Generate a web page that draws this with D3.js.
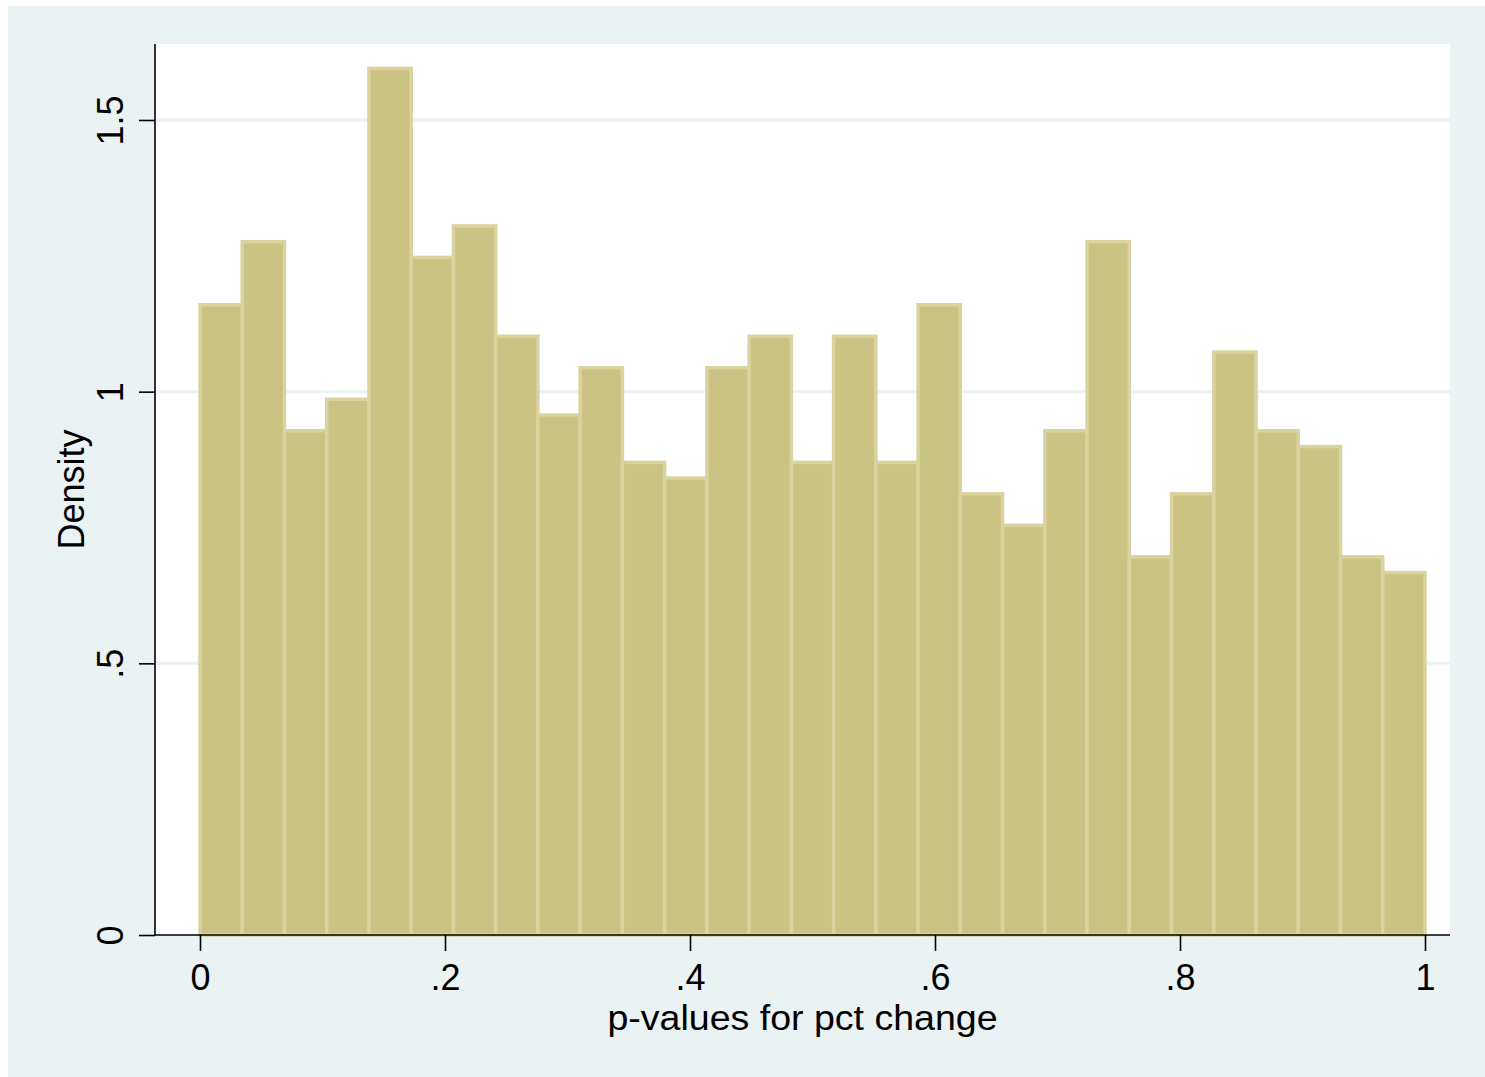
<!DOCTYPE html>
<html>
<head>
<meta charset="utf-8">
<script src="https://cdn.jsdelivr.net/npm/d3@7"></script>
<style>
  html, body { margin: 0; padding: 0; background: #ffffff; }
  svg { display: block; }
  text { font-family: Arial, "Liberation Sans", sans-serif; fill: #000; }
</style>
</head>
<body>
<svg id="chart" width="1485" height="1077"></svg>
<script>
// Histogram of p-values: 29 equal-width bins on [0, 1], heights in density units
const binStart = 0;
const binEnd = 1;
const densities = [
  1.160, 1.276, 0.928, 0.986, 1.595, 1.247, 1.305, 1.102, 0.957, 1.044,
  0.870, 0.841, 1.044, 1.102, 0.870, 1.102, 0.870, 1.160, 0.812, 0.754,
  0.928, 1.276, 0.696, 0.812, 1.073, 0.928, 0.899, 0.696, 0.667
];
const xTicks = [0, 0.2, 0.4, 0.6, 0.8, 1];
const xTickLabels = ["0", ".2", ".4", ".6", ".8", "1"];
const yTicks = [0, 0.5, 1, 1.5];
const yTickLabels = ["0", ".5", "1", "1.5"];
const xTitle = "p-values for pct change";
const yTitle = "Density";

const svg = d3.select("#chart");
const W = 1485, H = 1077;

// Outer graph region
svg.append("rect")
  .attr("x", 8).attr("y", 6)
  .attr("width", W - 8).attr("height", H - 6)
  .attr("fill", "#eaf2f3");

// Plot region
const plot = { left: 155, right: 1450, top: 44, bottom: 935 };
svg.append("rect")
  .attr("x", plot.left).attr("y", plot.top)
  .attr("width", plot.right - plot.left).attr("height", plot.bottom - plot.top)
  .attr("fill", "#ffffff");

const x = d3.scaleLinear().domain([binStart, binEnd]).range([200, 1425]);
const y = d3.scaleLinear().domain([0, 1.5]).range([plot.bottom, 120]);

// Horizontal grid lines
svg.append("g")
  .selectAll("line")
  .data(yTicks.filter(v => v > 0))
  .join("line")
  .attr("x1", plot.left).attr("x2", plot.right)
  .attr("y1", d => y(d)).attr("y2", d => y(d))
  .attr("stroke", "#eaf2f3")
  .attr("stroke-width", 3);

// Bars
const nBins = densities.length;
const binW = (binEnd - binStart) / nBins;
svg.append("g")
  .selectAll("rect")
  .data(densities)
  .join("rect")
  .attr("x", (d, i) => x(binStart + i * binW))
  .attr("width", (d, i) => x(binStart + (i + 1) * binW) - x(binStart + i * binW))
  .attr("y", d => y(d))
  .attr("height", d => y(0) - y(d))
  .attr("fill", "#cbc383")
  .attr("stroke", "#d9d39f")
  .attr("stroke-width", 3.5);

// Y axis
const yAxis = d3.axisLeft(y)
  .tickValues(yTicks)
  .tickFormat((d, i) => yTickLabels[i])
  .tickSize(16)
  .tickSizeOuter(0)
  .tickPadding(0);
const gy = svg.append("g")
  .attr("transform", `translate(${plot.left},0)`)
  .call(yAxis);
gy.select(".domain").remove();
gy.selectAll(".tick line").attr("stroke", "#000").attr("stroke-width", 1.6);
gy.selectAll(".tick text")
  .attr("x", null).attr("dy", null)
  .attr("text-anchor", "middle")
  .attr("transform", "translate(-32,0) rotate(-90)")
  .style("font-size", "36px")
  .style("font-family", "Arial, 'Liberation Sans', sans-serif");
svg.append("line")
  .attr("x1", plot.left).attr("x2", plot.left)
  .attr("y1", plot.top).attr("y2", plot.bottom)
  .attr("stroke", "#000").attr("stroke-width", 1.6);

// X axis
const xAxis = d3.axisBottom(x)
  .tickValues(xTicks)
  .tickFormat((d, i) => xTickLabels[i])
  .tickSize(16)
  .tickSizeOuter(0)
  .tickPadding(0);
const gx = svg.append("g")
  .attr("transform", `translate(0,${plot.bottom})`)
  .call(xAxis);
gx.select(".domain").remove();
gx.selectAll(".tick line").attr("stroke", "#000").attr("stroke-width", 1.6);
gx.selectAll(".tick text")
  .attr("y", 55).attr("dy", null)
  .style("font-size", "36px")
  .style("font-family", "Arial, 'Liberation Sans', sans-serif");
svg.append("line")
  .attr("x1", plot.left).attr("x2", plot.right)
  .attr("y1", plot.bottom).attr("y2", plot.bottom)
  .attr("stroke", "#000").attr("stroke-width", 1.6);

// Axis titles
svg.append("text")
  .attr("x", (plot.left + plot.right) / 2)
  .attr("y", 1030)
  .attr("text-anchor", "middle")
  .attr("textLength", 390)
  .attr("lengthAdjust", "spacingAndGlyphs")
  .style("font-size", "35px")
  .text(xTitle);

svg.append("text")
  .attr("transform", `translate(84,${(plot.top + plot.bottom) / 2}) rotate(-90)`)
  .attr("text-anchor", "middle")
  .style("font-size", "36px")
  .text(yTitle);
</script>
</body>
</html>
